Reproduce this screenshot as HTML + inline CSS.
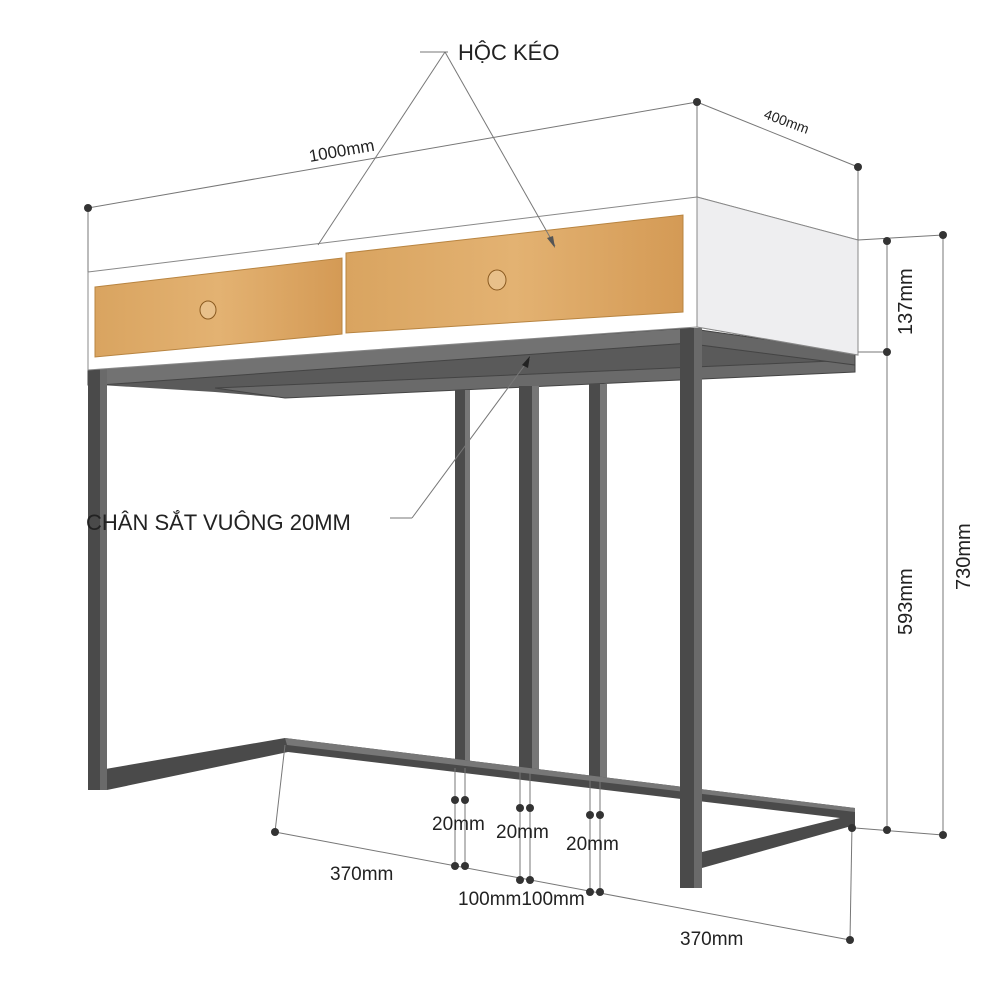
<!DOCTYPE html>
<html><head><meta charset="utf-8"><style>body{margin:0;background:#fff}svg{display:block}text{font-family:"Liberation Sans",sans-serif;fill:#222}</style></head><body>
<svg width="1000" height="1000" viewBox="0 0 1000 1000" xmlns="http://www.w3.org/2000/svg">
<rect width="1000" height="1000" fill="#fff"/>
<defs><linearGradient id="w" x1="0" x2="1"><stop offset="0" stop-color="#d9a460"/><stop offset=".5" stop-color="#e3b272"/><stop offset="1" stop-color="#d49a55"/></linearGradient></defs>
<!-- under-table frame -->
<polygon points="100,385 690,343 855,365 855,372 285,398 215,392" fill="#5a5a5a"/>
<polygon points="215,388 855,360 855,372 285,398" fill="#6a6a6a" stroke="#444" stroke-width="1"/>
<polygon points="88,368 690,328 690,343 100,385 88,385" fill="#727272" stroke="#444" stroke-width="1"/>
<polygon points="700,330 855,352 855,365 700,345" fill="#666" stroke="#444" stroke-width="1"/>
<!-- middle posts -->
<rect x="455" y="390" width="15" height="378" fill="#4b4b4b"/><rect x="465" y="390" width="5" height="378" fill="#777"/>
<rect x="519" y="386" width="20" height="384" fill="#4b4b4b"/><rect x="532" y="386" width="7" height="384" fill="#777"/>
<rect x="589" y="384" width="18" height="394" fill="#4b4b4b"/><rect x="600" y="384" width="7" height="394" fill="#777"/>
<!-- bottom rails -->
<polygon points="88,772 285,738 855,808 855,825 702,868 702,852 840,818 288,752 107,790 88,790" fill="#4a4a4a"/>
<polygon points="285,738 855,808 855,812 287,745" fill="#777"/>
<!-- legs -->
<rect x="88" y="368" width="19" height="422" fill="#4a4a4a"/><rect x="100" y="368" width="7" height="422" fill="#6a6a6a"/>
<rect x="680" y="328" width="22" height="560" fill="#4a4a4a"/><rect x="694" y="328" width="8" height="560" fill="#6a6a6a"/>
<!-- table box -->
<polygon points="88,272 697,197 858,240 858,355 697,327 88,370" fill="#fff" stroke="#888" stroke-width="1"/>
<polygon points="697,197 858,240 858,355 697,327" fill="#eeeef0" stroke="#888"/>
<!-- drawers -->
<polygon points="95,287 342,258 342,334 95,357" fill="url(#w)" stroke="#b88440"/>
<polygon points="346,253 683,215 683,312 346,333" fill="url(#w)" stroke="#b88440"/>
<ellipse cx="208" cy="310" rx="8" ry="9" fill="#e8c08a" stroke="#8a5a20"/>
<ellipse cx="497" cy="280" rx="9" ry="10" fill="#e8c08a" stroke="#8a5a20"/>
<!-- dimension lines -->
<g stroke="#777" stroke-width="1" fill="none">
<line x1="88" y1="208" x2="697" y2="102"/><line x1="88" y1="208" x2="88" y2="272"/><line x1="697" y1="102" x2="697" y2="197"/>
<line x1="697" y1="102" x2="858" y2="167"/><line x1="858" y1="167" x2="858" y2="240"/>
<line x1="858" y1="240" x2="943" y2="235"/><line x1="858" y1="352" x2="887" y2="352"/>
<line x1="887" y1="240" x2="887" y2="830"/><line x1="943" y1="235" x2="943" y2="835"/><line x1="855" y1="828" x2="943" y2="835"/>
<line x1="275" y1="832" x2="850" y2="940"/><line x1="275" y1="832" x2="285" y2="745"/><line x1="850" y1="940" x2="852" y2="825"/>
<line x1="455" y1="768" x2="455" y2="866"/><line x1="465" y1="768" x2="465" y2="866"/>
<line x1="520" y1="770" x2="520" y2="880"/><line x1="530" y1="770" x2="530" y2="880"/>
<line x1="590" y1="778" x2="590" y2="892"/><line x1="600" y1="778" x2="600" y2="892"/>
<line x1="420" y1="52" x2="448" y2="52"/><line x1="445" y1="52" x2="318" y2="245"/><line x1="445" y1="52" x2="555" y2="246"/>
<line x1="390" y1="518" x2="412" y2="518"/><line x1="412" y1="518" x2="530" y2="358"/>
</g>
<polygon points="555,248 547,238 553,236" fill="#555"/>
<polygon points="530,356 522,365 528,368" fill="#222"/>
<g fill="#333">
<circle cx="88" cy="208" r="4"/><circle cx="697" cy="102" r="4"/><circle cx="858" cy="167" r="4"/>
<circle cx="887" cy="241" r="4"/><circle cx="887" cy="352" r="4"/><circle cx="887" cy="830" r="4"/>
<circle cx="943" cy="235" r="4"/><circle cx="943" cy="835" r="4"/>
<circle cx="275" cy="832" r="4"/><circle cx="850" cy="940" r="4"/><circle cx="852" cy="828" r="4"/>
<circle cx="455" cy="800" r="4"/><circle cx="465" cy="800" r="4"/><circle cx="520" cy="808" r="4"/><circle cx="530" cy="808" r="4"/><circle cx="590" cy="815" r="4"/><circle cx="600" cy="815" r="4"/>
<circle cx="455" cy="866" r="4"/><circle cx="465" cy="866" r="4"/><circle cx="520" cy="880" r="4"/><circle cx="530" cy="880" r="4"/><circle cx="590" cy="892" r="4"/><circle cx="600" cy="892" r="4"/>
</g>
<text x="458" y="60" font-size="22">HỘC KÉO</text>
<text x="86" y="530" font-size="22">CHÂN SẮT VUÔNG 20MM</text>
<text x="310" y="162" font-size="17" transform="rotate(-10 310 162)">1000mm</text>
<text x="763" y="118" font-size="14" transform="rotate(20 763 118)">400mm</text>
<text x="912" y="335" font-size="20" transform="rotate(-90 912 335)">137mm</text>
<text x="912" y="635" font-size="20" transform="rotate(-90 912 635)">593mm</text>
<text x="970" y="590" font-size="20" transform="rotate(-90 970 590)">730mm</text>
<text x="432" y="830" font-size="19">20mm</text>
<text x="496" y="838" font-size="19">20mm</text>
<text x="566" y="850" font-size="19">20mm</text>
<text x="330" y="880" font-size="19">370mm</text>
<text x="458" y="905" font-size="19">100mm100mm</text>
<text x="680" y="945" font-size="19">370mm</text>
</svg>
</body></html>
